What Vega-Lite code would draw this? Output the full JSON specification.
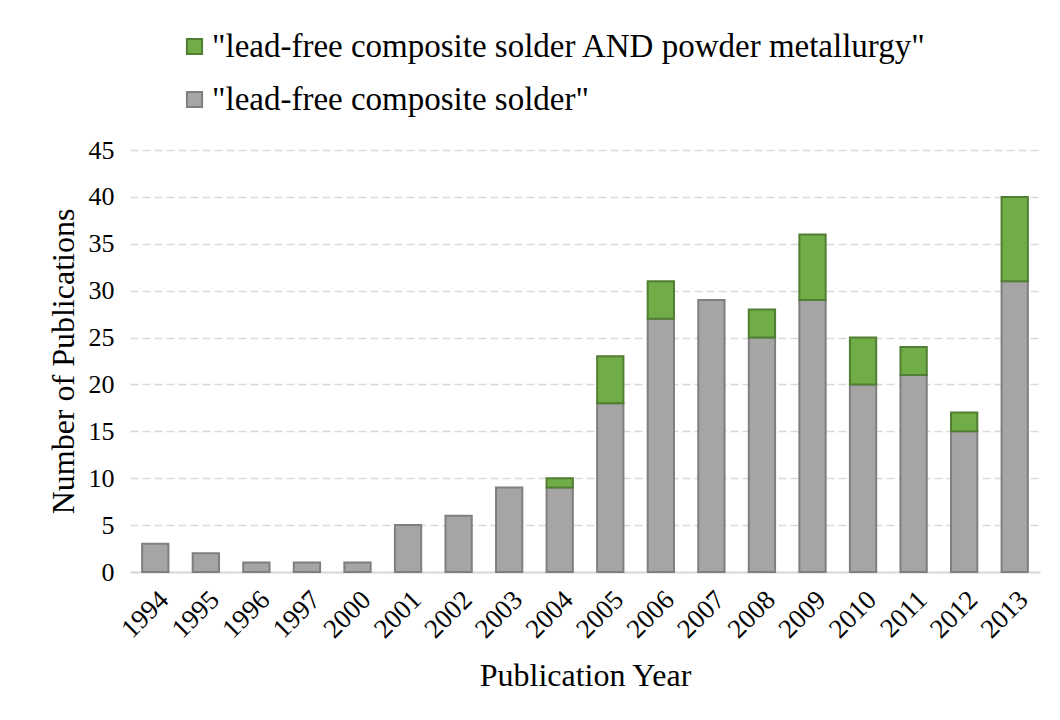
{
  "$schema": "https://vega.github.io/schema/vega-lite/v6.json",
  "width": 910,
  "height": 422,
  "autosize": {"type": "none"},
  "padding": {"left": 130, "top": 150, "right": 20, "bottom": 148},
  "background": "white",
  "data": {
    "values": [
      {"year": "1994", "series": "\"lead-free composite solder\"", "count": 3},
      {"year": "1995", "series": "\"lead-free composite solder\"", "count": 2},
      {"year": "1996", "series": "\"lead-free composite solder\"", "count": 1},
      {"year": "1997", "series": "\"lead-free composite solder\"", "count": 1},
      {"year": "2000", "series": "\"lead-free composite solder\"", "count": 1},
      {"year": "2001", "series": "\"lead-free composite solder\"", "count": 5},
      {"year": "2002", "series": "\"lead-free composite solder\"", "count": 6},
      {"year": "2003", "series": "\"lead-free composite solder\"", "count": 9},
      {"year": "2004", "series": "\"lead-free composite solder\"", "count": 9},
      {"year": "2005", "series": "\"lead-free composite solder\"", "count": 18},
      {"year": "2006", "series": "\"lead-free composite solder\"", "count": 27},
      {"year": "2007", "series": "\"lead-free composite solder\"", "count": 29},
      {"year": "2008", "series": "\"lead-free composite solder\"", "count": 25},
      {"year": "2009", "series": "\"lead-free composite solder\"", "count": 29},
      {"year": "2010", "series": "\"lead-free composite solder\"", "count": 20},
      {"year": "2011", "series": "\"lead-free composite solder\"", "count": 21},
      {"year": "2012", "series": "\"lead-free composite solder\"", "count": 15},
      {"year": "2013", "series": "\"lead-free composite solder\"", "count": 31},
      {"year": "2004", "series": "\"lead-free composite solder AND powder metallurgy\"", "count": 1},
      {"year": "2005", "series": "\"lead-free composite solder AND powder metallurgy\"", "count": 5},
      {"year": "2006", "series": "\"lead-free composite solder AND powder metallurgy\"", "count": 4},
      {"year": "2008", "series": "\"lead-free composite solder AND powder metallurgy\"", "count": 3},
      {"year": "2009", "series": "\"lead-free composite solder AND powder metallurgy\"", "count": 7},
      {"year": "2010", "series": "\"lead-free composite solder AND powder metallurgy\"", "count": 5},
      {"year": "2011", "series": "\"lead-free composite solder AND powder metallurgy\"", "count": 3},
      {"year": "2012", "series": "\"lead-free composite solder AND powder metallurgy\"", "count": 2},
      {"year": "2013", "series": "\"lead-free composite solder AND powder metallurgy\"", "count": 9}
    ]
  },
  "mark": {"type": "bar", "strokeWidth": 2},
  "encoding": {
    "x": {
      "field": "year",
      "type": "ordinal",
      "scale": {"paddingInner": 0.48, "paddingOuter": 0.24},
      "axis": {
        "title": "Publication Year",
        "titleFontSize": 32,
        "titlePadding": 18,
        "labelFontSize": 27,
        "labelAngle": -45,
        "labelPadding": 14,
        "ticks": false,
        "domainColor": "#d9d9d9",
        "domainWidth": 2
      }
    },
    "y": {
      "field": "count",
      "type": "quantitative",
      "stack": "zero",
      "scale": {"domain": [0, 45]},
      "axis": {
        "title": "Number of Publications",
        "titleFontSize": 32,
        "titlePadding": 8,
        "labelFontSize": 26,
        "labelPadding": 16,
        "values": [0, 5, 10, 15, 20, 25, 30, 35, 40, 45],
        "ticks": false,
        "domain": false,
        "grid": true,
        "gridColor": "#d9d9d9",
        "gridDash": [8, 4],
        "gridWidth": 1.5
      }
    },
    "color": {
      "field": "series",
      "type": "nominal",
      "scale": {
        "domain": ["\"lead-free composite solder AND powder metallurgy\"", "\"lead-free composite solder\""],
        "range": ["#70ad47", "#a5a5a5"]
      },
      "legend": {
        "title": null,
        "orient": "none",
        "legendX": 48,
        "legendY": -120,
        "direction": "vertical",
        "labelFontSize": 33,
        "labelLimit": 1000,
        "symbolType": "square",
        "symbolSize": 230,
        "symbolStrokeWidth": 2,
        "rowPadding": 19,
        "labelOffset": 1
      }
    },
    "stroke": {
      "field": "series",
      "type": "nominal",
      "scale": {
        "domain": ["\"lead-free composite solder AND powder metallurgy\"", "\"lead-free composite solder\""],
        "range": ["#507e32", "#7f7f7f"]
      },
      "legend": null
    },
    "order": {"field": "series", "sort": "descending"}
  },
  "config": {
    "font": "Liberation Serif",
    "view": {"stroke": null},
    "axis": {
      "labelFont": "Liberation Serif",
      "titleFont": "Liberation Serif",
      "labelColor": "black",
      "titleColor": "black",
      "titleFontWeight": "normal"
    },
    "legend": {
      "labelFont": "Liberation Serif",
      "labelColor": "black"
    }
  }
}
